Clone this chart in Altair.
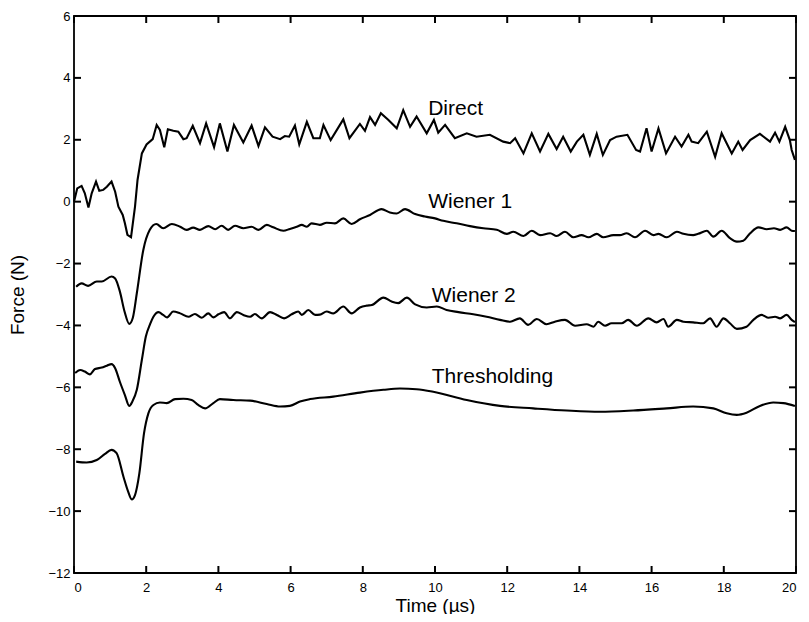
import altair as alt
import pandas as pd

# ---- data ----
direct_t = [0, 0.09, 0.21, 0.30, 0.40, 0.49, 0.61, 0.70, 0.81, 0.91,
            1.04, 1.14, 1.23, 1.35, 1.41, 1.48, 1.58, 1.69, 1.76, 1.88,
            2.01, 2.18, 2.29, 2.38, 2.50, 2.60, 2.75, 2.89, 3.03, 3.12,
            3.29, 3.49, 3.66, 3.88, 4.04, 4.25, 4.43, 4.69, 4.92, 5.11,
            5.29, 5.50, 5.71, 5.84, 5.96, 6.12, 6.24, 6.45, 6.63, 6.81,
            6.91, 7.11, 7.46, 7.63, 7.92, 8.06, 8.20, 8.34, 8.50, 8.71,
            8.94, 9.12, 9.31, 9.49, 9.77, 9.97, 10.09, 10.28, 10.55, 10.88,
            11.15, 11.52, 11.89, 12.08, 12.22, 12.45, 12.68, 12.91, 13.14, 13.37,
            13.55, 13.76, 13.93, 14.11, 14.29, 14.48, 14.65, 14.85, 15.03, 15.33,
            15.57, 15.68, 15.86, 16.00, 16.19, 16.40, 16.65, 16.83, 17.02, 17.11,
            17.29, 17.53, 17.76, 17.94, 18.22, 18.40, 18.52, 18.73, 19.00, 19.28,
            19.42, 19.54, 19.70, 19.83, 19.88, 19.97]
direct_f = [0, 0.43, 0.51, 0.27, -0.19, 0.27, 0.65, 0.35, 0.38, 0.48,
            0.65, 0.32, -0.16, -0.43, -0.70, -1.07, -1.15, -0.16, 0.70, 1.56,
            1.85, 2.02, 2.48, 2.32, 1.76, 2.34, 2.29, 2.26, 2.02, 2.05,
            2.45, 1.89, 2.53, 1.76, 2.53, 1.62, 2.48, 1.91, 2.46, 1.80,
            2.40, 2.10, 2.02, 2.12, 2.10, 2.46, 1.85, 2.58, 2.05, 2.05,
            2.48, 1.99, 2.66, 2.05, 2.51, 2.29, 2.73, 2.48, 2.86, 2.64,
            2.37, 2.96, 2.42, 2.75, 2.21, 2.64, 2.23, 2.48, 2.05, 2.21,
            2.10, 2.16, 1.94, 1.89, 2.05, 1.56, 2.21, 1.62, 2.19, 1.70,
            2.10, 1.62, 1.94, 2.16, 1.51, 2.19, 1.51, 1.99, 2.10, 2.16,
            1.67, 1.62, 2.37, 1.62, 2.37, 1.56, 2.10, 1.78, 2.16, 1.94,
            1.89, 2.26, 1.45, 2.21, 1.56, 1.94, 1.67, 1.99, 2.19, 1.94,
            2.23, 1.94, 2.42, 1.99, 1.67, 1.35]

wiener1_t = [0.06, 0.21, 0.39, 0.63, 0.77, 1.04, 1.14, 1.27, 1.40, 1.53,
             1.63, 1.74, 1.92, 2.10, 2.28, 2.47, 2.71, 2.94, 3.12, 3.30,
             3.49, 3.72, 3.91, 4.09, 4.27, 4.46, 4.69, 4.92, 5.11, 5.34,
             5.52, 5.80, 5.98, 6.17, 6.31, 6.45, 6.58, 6.81, 7.00, 7.23,
             7.46, 7.69, 7.92, 8.20, 8.52, 8.75, 8.94, 9.17, 9.45, 9.72,
             10.00, 10.23, 10.60, 10.97, 11.34, 11.71, 11.99, 12.17, 12.45, 12.68,
             12.91, 13.19, 13.37, 13.60, 13.83, 14.06, 14.25, 14.48, 14.66, 14.94,
             15.12, 15.31, 15.54, 15.82, 16.05, 16.19, 16.42, 16.70, 16.88, 17.15,
             17.29, 17.53, 17.71, 17.94, 18.17, 18.36, 18.54, 18.73, 18.96, 19.19,
             19.39, 19.56, 19.74, 19.88, 19.97]
wiener1_f = [-2.75, -2.64, -2.72, -2.58, -2.58, -2.42, -2.48, -2.90, -3.55, -3.95,
             -3.75, -2.96, -1.56, -0.91, -0.72, -0.86, -0.72, -0.81, -0.91, -0.84,
             -0.91, -0.79, -0.89, -0.78, -0.91, -0.78, -0.86, -0.81, -0.91, -0.75,
             -0.83, -0.94, -0.88, -0.81, -0.75, -0.81, -0.70, -0.75, -0.68, -0.70,
             -0.54, -0.72, -0.57, -0.43, -0.24, -0.35, -0.38, -0.24, -0.40, -0.48,
             -0.54, -0.62, -0.70, -0.79, -0.86, -0.91, -1.04, -0.97, -1.11, -0.94,
             -1.08, -1.02, -1.11, -0.97, -1.15, -1.08, -1.15, -1.04, -1.15, -1.08,
             -1.08, -1.02, -1.15, -0.94, -1.08, -1.04, -1.15, -0.97, -1.04, -1.08,
             -1.04, -0.94, -1.13, -0.94, -1.18, -1.29, -1.26, -1.02, -0.83, -0.89,
             -0.86, -0.91, -0.83, -0.94, -0.95]

wiener2_t = [0.03, 0.17, 0.30, 0.44, 0.58, 0.77, 0.91, 1.04, 1.14, 1.27,
             1.41, 1.53, 1.62, 1.74, 1.88, 1.99, 2.11, 2.20, 2.34, 2.47,
             2.58, 2.75, 2.94, 3.17, 3.35, 3.54, 3.72, 3.86, 4.00, 4.16,
             4.32, 4.51, 4.69, 4.88, 5.01, 5.20, 5.43, 5.62, 5.82, 6.03,
             6.21, 6.31, 6.49, 6.68, 6.81, 7.00, 7.18, 7.46, 7.69, 7.92,
             8.11, 8.25, 8.57, 8.80, 8.98, 9.22, 9.45, 9.77, 10.05, 10.32,
             10.65, 11.06, 11.43, 11.80, 12.08, 12.35, 12.58, 12.82, 13.09, 13.32,
             13.60, 13.88, 14.20, 14.39, 14.52, 14.71, 14.89, 15.17, 15.35, 15.59,
             15.91, 16.14, 16.33, 16.46, 16.70, 16.88, 17.15, 17.43, 17.62, 17.80,
             17.99, 18.17, 18.36, 18.63, 18.82, 19.05, 19.24, 19.42, 19.56, 19.74,
             19.88, 19.97]
wiener2_f = [-5.54, -5.44, -5.49, -5.58, -5.41, -5.36, -5.30, -5.25, -5.38, -5.82,
             -6.25, -6.60, -6.45, -6.08, -5.11, -4.36, -3.95, -3.72, -3.57, -3.66,
             -3.74, -3.55, -3.61, -3.72, -3.63, -3.75, -3.61, -3.74, -3.64, -3.57,
             -3.77, -3.57, -3.66, -3.72, -3.63, -3.77, -3.57, -3.66, -3.77, -3.64,
             -3.55, -3.66, -3.50, -3.66, -3.65, -3.55, -3.61, -3.39, -3.61, -3.42,
             -3.36, -3.34, -3.10, -3.23, -3.28, -3.10, -3.32, -3.42, -3.39, -3.50,
             -3.57, -3.64, -3.72, -3.82, -3.88, -3.77, -3.98, -3.79, -3.96, -3.88,
             -3.82, -4.01, -3.96, -4.04, -3.88, -4.01, -3.93, -3.93, -3.82, -4.01,
             -3.77, -3.90, -3.79, -4.04, -3.82, -3.88, -3.90, -3.93, -3.77, -4.04,
             -3.77, -3.93, -4.11, -4.04, -3.82, -3.66, -3.75, -3.72, -3.77, -3.66,
             -3.82, -3.89]

thresh_t = [0.06, 0.35, 0.63, 0.86, 1.04, 1.18, 1.37, 1.50, 1.60, 1.69,
            1.81, 1.94, 2.06, 2.20, 2.38, 2.57, 2.80, 3.03, 3.26, 3.44,
            3.63, 3.86, 4.04, 4.41, 4.88, 5.34, 5.71, 5.98, 6.26, 6.54,
            7.18, 7.92, 8.57, 9.03, 9.49, 9.95, 10.88, 11.80, 12.72, 13.65,
            14.57, 15.49, 16.42, 17.15, 17.71, 18.08, 18.36, 18.63, 19.00, 19.37,
            19.65, 19.97]
thresh_f = [-8.40, -8.43, -8.35, -8.15, -8.02, -8.13, -8.89, -9.37, -9.62, -9.48,
            -8.78, -7.48, -6.84, -6.57, -6.49, -6.51, -6.38, -6.37, -6.41, -6.57,
            -6.68, -6.51, -6.38, -6.41, -6.43, -6.54, -6.62, -6.60, -6.46, -6.38,
            -6.30, -6.17, -6.08, -6.04, -6.06, -6.14, -6.41, -6.60, -6.68, -6.75,
            -6.79, -6.75, -6.68, -6.62, -6.68, -6.84, -6.89, -6.82, -6.60, -6.49,
            -6.51, -6.60]

label_text = ["Direct", "Wiener 1", "Wiener 2", "Thresholding"]
label_t = [9.81, 9.81, 9.91, 9.91]
label_f = [2.80, -0.21, -3.23, -5.87]

x_ticks = [0, 2, 4, 6, 8, 10, 12, 14, 16, 18, 20]
y_ticks = [-12, -10, -8, -6, -4, -2, 0, 2, 4, 6]

# ---- tables ----
def series_rows(name, ts, fs):
    return [{"series": name, "t": t, "f": f, "order": i}
            for i, (t, f) in enumerate(zip(ts, fs))]

direct_df = pd.DataFrame(series_rows("Direct", direct_t, direct_f))
wiener_df = pd.DataFrame(series_rows("Wiener 1", wiener1_t, wiener1_f)
                         + series_rows("Wiener 2", wiener2_t, wiener2_f))
thresh_df = pd.DataFrame(series_rows("Thresholding", thresh_t, thresh_f))
labels = pd.DataFrame({"t": label_t, "f": label_f, "label": label_text})
xt = pd.DataFrame({"t": x_ticks})
yt = pd.DataFrame({"f": y_ticks})

W, H = 722, 557
FONT = "Liberation Sans"
TL = 7  # inward tick length

xscale = alt.Scale(domain=[0, 20], nice=False, zero=False)
yscale = alt.Scale(domain=[-12, 6], nice=False, zero=False)

x_enc = alt.X("t:Q", scale=xscale,
              axis=alt.Axis(values=x_ticks, title="Time (µs)", labelPadding=8,
                            ticks=False,
                            titleX=W / 2, titleY=38, titleBaseline="alphabetic",
                            titleAlign="center"))
y_enc = alt.Y("f:Q", scale=yscale,
              axis=alt.Axis(values=y_ticks, title="Force (N)", labelPadding=4,
                            ticks=False,
                            titleX=-51, titleY=H / 2, titleAngle=270,
                            titleBaseline="alphabetic", titleAlign="center"))

xs = alt.X("t:Q", scale=xscale)
ys = alt.Y("f:Q", scale=yscale)

LW = 2.1
direct_line = alt.Chart(direct_df).mark_line(color="black", strokeWidth=LW).encode(
    x=x_enc, y=y_enc, order="order:Q")

wiener_lines = alt.Chart(wiener_df).mark_line(color="black", strokeWidth=LW,
                                              interpolate="monotone").encode(
    x=xs, y=ys, detail="series:N", order="order:Q")

thresh_line = alt.Chart(thresh_df).mark_line(color="black", strokeWidth=LW,
                                             interpolate="monotone").encode(
    x=xs, y=ys, order="order:Q")

text = alt.Chart(labels).mark_text(align="left", baseline="alphabetic",
                                   font=FONT, fontSize=21, color="black").encode(
    x=xs, y=ys, text="label:N")

tick_style = dict(color="black", strokeWidth=2)
xt_bottom = alt.Chart(xt).mark_rule(**tick_style).encode(
    x=xs, y=alt.value(H), y2=alt.value(H - TL))
xt_top = alt.Chart(xt).mark_rule(**tick_style).encode(
    x=xs, y=alt.value(0), y2=alt.value(TL))
yt_left = alt.Chart(yt).mark_rule(**tick_style).encode(
    y=ys, x=alt.value(0), x2=alt.value(TL))
yt_right = alt.Chart(yt).mark_rule(**tick_style).encode(
    y=ys, x=alt.value(W), x2=alt.value(W - TL))

chart = alt.layer(direct_line, wiener_lines, thresh_line, text,
                  xt_bottom, xt_top, yt_left, yt_right).properties(
    width=W, height=H,
    autosize=alt.AutoSizeParams(type="none"),
    padding={"left": 66, "top": 8, "right": 5, "bottom": 41},
    background="white",
).configure_view(
    stroke="black", strokeWidth=1.8
).configure_axis(
    domain=False, grid=False,
    labelFont=FONT, labelFontSize=13, labelColor="black",
    titleFont=FONT, titleFontSize=19, titleFontWeight="normal", titleColor="black",
)

chart.save("out.html", embed_options={"renderer": "svg", "actions": False})
